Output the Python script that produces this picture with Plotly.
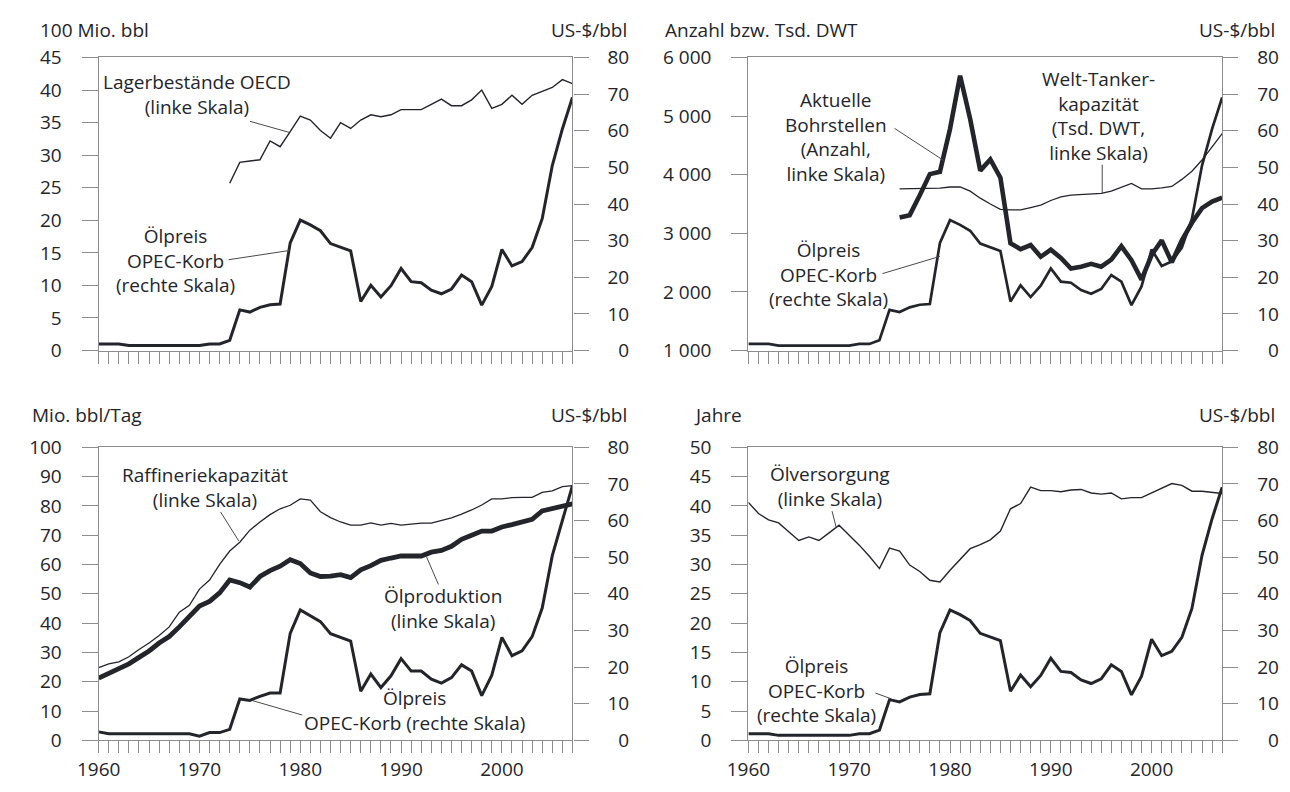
import plotly.graph_objects as go

# ---------------------------------------------------------------- data
jahre = list(range(1960, 2008))

# OPEC basket price, US-$/bbl
preis_opec = [1.8, 1.8, 1.8, 1.35, 1.35, 1.35, 1.35, 1.35, 1.35, 1.35,
              1.35, 1.8, 1.8, 2.8, 11.1, 10.5, 11.8, 12.5, 12.7, 29.4,
              35.6, 34.3, 32.7, 29.2, 28.3, 27.2, 13.4, 17.8, 14.6, 17.7,
              22.4, 18.8, 18.5, 16.5, 15.5, 16.8, 20.6, 18.8, 12.4, 17.5,
              27.6, 23.1, 24.3, 28.1, 36.0, 50.5, 60.5, 69.1]

# same price series as shown in the refinery panel
preis_opec_raff = [2.3, 1.8, 1.8, 1.8, 1.8, 1.8, 1.8, 1.8, 1.8, 1.8,
                   1.1, 2.1, 2.1, 3.0, 11.3, 10.9, 12.0, 12.9, 12.9, 29.2,
                   35.6, 34.1, 32.4, 29.1, 28.1, 27.1, 13.4, 18.1, 14.4, 17.6,
                   22.3, 18.9, 18.9, 16.7, 15.6, 17.1, 20.6, 18.9, 12.2, 17.8,
                   28.1, 23.1, 24.4, 28.3, 36.1, 50.4, 60.0, 69.5]

# OECD inventories, 100 Mio. bbl
jahre_lager = list(range(1973, 2008))
lager_oecd = [25.7, 28.9, 29.1, 29.3, 32.2, 31.3, 33.6, 36.0, 35.4, 33.8,
              32.6, 35.0, 34.1, 35.4, 36.2, 35.9, 36.2, 37.0, 37.0, 37.0,
              37.8, 38.6, 37.6, 37.6, 38.5, 40.0, 37.2, 37.8, 39.2, 37.8,
              39.2, 39.8, 40.4, 41.6, 41.0]

# active rigs (count) and world tanker capacity (Tsd. DWT)
jahre_bohr = list(range(1975, 2008))
bohrstellen = [3270, 3310, 3650, 4010, 4050, 4780, 5690, 4950, 4070, 4260,
               3950, 2830, 2730, 2800, 2600, 2720, 2580, 2400, 2430, 2480,
               2430, 2550, 2780, 2540, 2210, 2630, 2880, 2505, 2880, 3180,
               3430, 3540, 3610]
tanker_kap = [3760, 3760, 3760, 3760, 3770, 3790, 3790, 3720, 3600, 3500,
              3410, 3400, 3400, 3440, 3480, 3560, 3620, 3650, 3660, 3670,
              3680, 3720, 3780, 3850, 3760, 3760, 3775, 3800, 3920, 4060,
              4250, 4470, 4700]

# refinery capacity and oil production, Mio. bbl/Tag
raffinerie_kap = [24.8, 26.1, 26.8, 28.5, 31.0, 33.2, 35.8, 38.7, 43.7, 46.1,
                  51.6, 54.7, 60.0, 64.6, 67.6, 71.7, 74.5, 77.0, 79.0, 80.2,
                  82.4, 82.0, 78.0, 76.0, 74.5, 73.4, 73.4, 74.2, 73.4, 74.0,
                  73.4, 73.7, 74.1, 74.1, 75.0, 75.9, 77.2, 78.6, 80.3, 82.4,
                  82.4, 82.8, 82.9, 82.9, 84.6, 85.1, 86.6, 86.9]
oel_produktion = [21.2, 22.8, 24.4, 26.1, 28.3, 30.5, 33.2, 35.4, 38.7, 42.0,
                  45.8, 47.4, 50.3, 54.7, 53.8, 52.3, 55.9, 57.9, 59.4, 61.6,
                  60.3, 57.1, 55.9, 56.0, 56.5, 55.5, 58.2, 59.6, 61.4, 62.2,
                  62.9, 62.9, 62.9, 64.2, 64.8, 66.2, 68.6, 70.0, 71.4, 71.4,
                  72.8, 73.6, 74.5, 75.4, 78.3, 79.1, 80.0, 80.7]

# reserves-to-production ratio, Jahre
oel_versorgung = [40.6, 38.7, 37.6, 37.1, 35.6, 34.1, 34.7, 34.1, 35.4, 36.7,
                  35.0, 33.3, 31.4, 29.3, 32.8, 32.3, 29.9, 28.8, 27.3, 27.0,
                  29.0, 30.8, 32.7, 33.4, 34.2, 35.7, 39.5, 40.4, 43.2, 42.6,
                  42.6, 42.4, 42.7, 42.8, 42.2, 42.0, 42.2, 41.2, 41.4, 41.4,
                  42.2, 42.9, 43.8, 43.5, 42.5, 42.5, 42.3, 42.1]

# ---------------------------------------------------------------- style
W, H = 1290, 792
INK = "#23252b"
AXIS = "#8c8c8c"
LEADER = "#4a4a4a"
FONT = "Open Sans"
FS = 19


def px(x):
    return x / W


def py(y):
    return 1 - y / H


fig = go.Figure()


def line(x, y, xa, ya, width):
    fig.add_trace(go.Scatter(x=x, y=y, xaxis=xa, yaxis=ya, mode="lines",
                             line=dict(color=INK, width=width),
                             hoverinfo="skip", showlegend=False))


# top left: inventories + price
line(jahre_lager, lager_oecd, "x", "y", 1.4)
line(jahre, preis_opec, "x", "y2", 3.0)
# top right: tanker capacity, rigs, price
line(jahre_bohr, tanker_kap, "x2", "y3", 1.3)
line(jahre_bohr, bohrstellen, "x2", "y3", 4.6)
line(jahre, preis_opec, "x2", "y4", 2.7)
# bottom left: refinery capacity, production, price
line(jahre, raffinerie_kap, "x3", "y5", 1.3)
line(jahre, oel_produktion, "x3", "y5", 4.8)
line(jahre, preis_opec_raff, "x3", "y6", 3.0)
# bottom right: supply years, price
line(jahre, oel_versorgung, "x4", "y7", 1.4)
line(jahre, preis_opec, "x4", "y8", 3.0)

# ---------------------------------------------------------------- axes
X_LEFT = [px(78), px(560)]
X_RIGHT = [px(739), px(1221)]
Y_TOP = [py(349), py(46)]
Y_BOTTOM = [py(752), py(449)]

tickfont = dict(family=FONT, size=FS, color=INK)
dekaden = [str(j) if j % 10 == 0 else "" for j in jahre]


def x_axis(domain, anchor, labels):
    return dict(domain=domain, anchor=anchor, range=[1960, 2007],
                showline=True, mirror=True, linecolor=AXIS, linewidth=1.3,
                ticks="outside", ticklen=12, tickwidth=1.2, tickcolor=AXIS,
                tickvals=jahre, ticktext=dekaden if labels else [""] * len(jahre),
                showticklabels=labels, tickfont=tickfont,
                showgrid=False, zeroline=False)


def y_left(domain, anchor, rng, vals, texts):
    return dict(domain=domain, anchor=anchor, range=rng,
                showline=True, linecolor=AXIS, linewidth=1.3,
                ticks="outside", ticklen=16, tickwidth=1.2, tickcolor=AXIS,
                tickvals=vals, ticktext=texts, tickfont=tickfont,
                ticklabelstandoff=16, showgrid=False, zeroline=False)


def y_right(overlay, anchor):
    vals = list(range(0, 81, 10))
    texts = ["\u2007" + str(v) if v < 10 else str(v) for v in vals]
    return dict(overlaying=overlay, side="right", anchor=anchor, range=[0, 80],
                showline=True, linecolor=AXIS, linewidth=1.3,
                ticks="outside", ticklen=15, tickwidth=1.2, tickcolor=AXIS,
                tickvals=vals, ticktext=texts, tickfont=tickfont,
                ticklabelstandoff=15, showgrid=False, zeroline=False)


v45 = list(range(0, 46, 5))
v6000 = list(range(1000, 6001, 1000))
v100 = list(range(0, 101, 10))
v50 = list(range(0, 51, 5))

fig.update_layout(
    xaxis=x_axis(X_LEFT, "y", False),
    xaxis2=x_axis(X_RIGHT, "y3", False),
    xaxis3=x_axis(X_LEFT, "y5", True),
    xaxis4=x_axis(X_RIGHT, "y7", True),
    yaxis=y_left(Y_TOP, "x", [0, 45], v45, [str(v) for v in v45]),
    yaxis2=y_right("y", "x"),
    yaxis3=y_left(Y_TOP, "x2", [1000, 6000], v6000,
                  [f"{v // 1000} 000" for v in v6000]),
    yaxis4=y_right("y3", "x2"),
    yaxis5=y_left(Y_BOTTOM, "x3", [0, 100], v100, [str(v) for v in v100]),
    yaxis6=y_right("y5", "x3"),
    yaxis7=y_left(Y_BOTTOM, "x4", [0, 50], v50, [str(v) for v in v50]),
    yaxis8=y_right("y7", "x4"),
)

# ---------------------------------------------------------------- texts
annotations = []


def text(x, y, s, anchor="center"):
    annotations.append(dict(x=px(x), y=py(y), xref="paper", yref="paper",
                            text=s, showarrow=False, xanchor=anchor,
                            yanchor="middle", align="center",
                            font=dict(family=FONT, size=FS, color=INK)))


# axis units
text(16, 18, "100 Mio. bbl", "left")
text(618, 18, "US-$/bbl", "right")
text(652, 18, "Anzahl bzw. Tsd. DWT", "left")
text(1277, 18, "US-$/bbl", "right")
text(8, 416, "Mio. bbl/Tag", "left")
text(618, 416, "US-$/bbl", "right")
text(682, 416, "Jahre", "left")
text(1277, 416, "US-$/bbl", "right")

# series labels
text(178, 84, "Lagerbestände OECD<br>(linke Skala)")
text(156, 256, "Ölpreis<br>OPEC-Korb<br>(rechte Skala)")
text(828, 128, "Aktuelle<br>Bohrstellen<br>(Anzahl,<br>linke Skala)")
text(1095, 107, "Welt-Tanker-<br>kapazität<br>(Tsd. DWT,<br>linke Skala)")
text(820, 270, "Ölpreis<br>OPEC-Korb<br>(rechte Skala)")
text(186, 491, "Raffineriekapazität<br>(linke Skala)")
text(428, 616, "Ölproduktion<br>(linke Skala)")
text(399, 721, "Ölpreis<br>OPEC-Korb (rechte Skala)")
text(822, 490, "Ölversorgung<br>(linke Skala)")
text(808, 700, "Ölpreis<br>OPEC-Korb<br>(rechte Skala)")

# leader lines from labels to their series
shapes = []


def leader(xa, ya, x0, y0, x1, y1):
    shapes.append(dict(type="line", xref=xa, yref=ya, x0=x0, y0=y0,
                       x1=x1, y1=y1, line=dict(color=LEADER, width=1)))


leader("x", "y", 1975.0, 35.2, 1978.9, 33.5)
leader("x", "y2", 1972.9, 24.8, 1978.9, 27.3)
leader("x2", "y3", 1974.5, 4790, 1979.4, 4240)
leader("x2", "y3", 1995.1, 4170, 1995.1, 3690)
leader("x2", "y4", 1973.3, 21.0, 1979.0, 25.7)
leader("x3", "y5", 1972.1, 77.9, 1973.9, 68.0)
leader("x3", "y5", 1993.7, 53.2, 1992.5, 62.8)
leader("x3", "y6", 1980.2, 6.9, 1975.3, 10.8)
leader("x4", "y7", 1968.3, 39.1, 1968.7, 36.4)
leader("x4", "y8", 1972.6, 12.9, 1974.2, 11.3)

fig.update_layout(
    width=W, height=H, autosize=False,
    margin=dict(l=0, r=0, t=0, b=0),
    paper_bgcolor="white", plot_bgcolor="white",
    showlegend=False,
    annotations=annotations, shapes=shapes,
    font=dict(family=FONT, size=FS, color=INK),
)

fig.write_html("out.html")
